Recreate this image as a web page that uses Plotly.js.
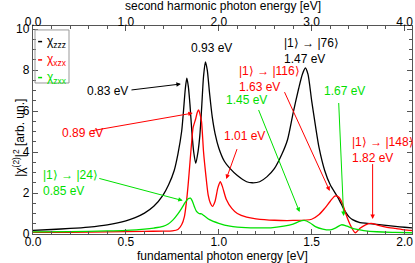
<!DOCTYPE html>
<html>
<head>
<meta charset="utf-8">
<script src="https://cdn.plot.ly/plotly-3.0.1.min.js"></script>
<style>html,body{margin:0;padding:0;background:#fff;}#chart{width:415px;height:263px;}</style>
</head>
<body>
<div id="chart"></div>
<script>
// fundamental photon energy [eV] and |chi(2)|^2 [arb. un.]
const zzzX = [0.00,0.10,0.20,0.30,0.40,0.50,0.55,0.60,0.65,0.70,0.73,0.76,0.78,0.80,0.81,0.82,0.828,0.836,0.845,0.855,0.865,0.876,0.888,0.898,0.908,0.918,0.928,0.938,0.95,0.965,0.98,1.00,1.03,1.06,1.10,1.15,1.18,1.22,1.26,1.30,1.34,1.37,1.40,1.43,1.45,1.466,1.48,1.50,1.52,1.54,1.57,1.60,1.64,1.66,1.68,1.70,1.72,1.76,1.80,1.85,1.90,1.95,2.00,2.04];
const zzzY = [0.18,0.22,0.27,0.34,0.45,0.64,0.80,1.02,1.35,1.90,2.40,3.10,3.90,5.00,6.00,7.10,7.60,7.20,6.30,5.00,4.00,3.45,4.00,4.80,6.20,7.70,8.40,8.00,6.90,5.70,4.90,4.20,3.55,3.20,2.85,2.55,2.50,2.55,2.80,3.20,3.90,4.60,5.90,7.10,7.80,8.10,7.80,6.50,5.30,4.20,3.10,2.40,1.80,1.45,1.10,0.85,0.70,0.56,0.52,0.47,0.42,0.37,0.33,0.30];

const xzxX = [0.00,0.20,0.40,0.60,0.70,0.75,0.78,0.80,0.815,0.825,0.835,0.845,0.855,0.862,0.875,0.885,0.892,0.900,0.907,0.918,0.930,0.943,0.955,0.966,0.980,0.995,1.008,1.02,1.04,1.07,1.10,1.15,1.20,1.30,1.40,1.50,1.54,1.57,1.60,1.625,1.645,1.665,1.685,1.71,1.735,1.76,1.79,1.82,1.86,1.90,1.95,2.00,2.04];
const xzxY = [0.08,0.08,0.10,0.13,0.14,0.15,0.22,0.45,0.85,1.50,2.40,3.50,4.60,5.20,5.60,5.95,6.05,5.80,5.50,4.00,2.90,1.90,1.50,1.35,1.60,2.25,2.55,2.30,1.70,1.25,1.00,0.82,0.74,0.67,0.66,0.72,0.95,1.25,1.60,1.85,1.80,1.50,0.95,0.40,0.06,0.28,0.45,0.52,0.42,0.34,0.27,0.20,0.17];

const zxxX = [0.00,0.20,0.40,0.50,0.60,0.65,0.70,0.73,0.755,0.78,0.80,0.82,0.835,0.848,0.858,0.870,0.880,0.893,0.907,0.92,0.95,1.00,1.06,1.10,1.20,1.28,1.35,1.40,1.43,1.46,1.49,1.52,1.56,1.60,1.63,1.66,1.69,1.72,1.78,1.85,1.95,2.04];
const zxxY = [0.10,0.12,0.15,0.18,0.24,0.29,0.37,0.50,0.70,0.98,1.25,1.55,1.72,1.75,1.60,1.30,1.10,1.00,0.98,0.90,0.70,0.52,0.38,0.34,0.30,0.30,0.38,0.48,0.60,0.66,0.55,0.36,0.24,0.20,0.30,0.45,0.38,0.27,0.17,0.11,0.08,0.06];

const seriesNames = ['χ<sub>zzz</sub>','χ<sub>xzx</sub>','χ<sub>zxx</sub>'];
const seriesColors = ['#000000','#ff0000','#00e000'];
const bottomTicks = [0,0.5,1.0,1.5,2.0];
const topTicks = [0,1,2,3,4];
const leftTicks = [0,2,4,6,8,10];

const FONT = 'Liberation Sans, Arial, Helvetica, sans-serif';
const AX = '#555555';

function line(x,y,i){
  return {x:x,y:y,type:'scatter',mode:'lines',name:seriesNames[i],
    line:{color:seriesColors[i],width:1.3,shape:'spline',smoothing:0.7},hoverinfo:'skip'};
}
const traces = [line(zzzX,zzzY,0), line(xzxX,xzxY,1), line(zxxX,zxxY,2),
  {x:zzzX.map(v=>2*v), y:zzzY, xaxis:'x2', type:'scatter', mode:'lines',
   line:{color:'rgba(0,0,0,0)',width:0}, hoverinfo:'skip', showlegend:false}];

const common = {ticks:'inside', ticklen:5, tickwidth:1, tickcolor:AX, showline:true, linecolor:AX, linewidth:1.2,
  showgrid:false, zeroline:false, automargin:false, tickfont:{family:FONT,size:12,color:'#000'}};

function ann(x,y,text,color,opts){
  return Object.assign({x:x,y:y,xref:'x',yref:'y',text:text,showarrow:false,
    font:{family:FONT,size:12,color:color}}, opts||{});
}
function arrow(tx,ty,hx,hy,color){
  return {x:hx,y:hy,ax:tx,ay:ty,xref:'x',yref:'y',axref:'x',ayref:'y',text:' ',showarrow:true,
    arrowhead:2,arrowsize:0.9,arrowwidth:1,arrowcolor:color,standoff:0,startstandoff:0,font:{size:1}};
}
const annotations = [
  ann(0.403,7.0,'0.83 eV','#000'),
  ann(0.962,9.07,'0.93 eV','#000'),
  ann(1.339,8.95,'|1⟩ → |76⟩<br>1.47 eV','#000',{xanchor:'left',align:'left'}),
  ann(0.269,4.93,'0.89 eV','#ff0000'),
  ann(1.14,4.78,'1.01 eV','#ff0000'),
  ann(1.097,7.56,'|1⟩ → |116⟩<br>1.63 eV','#ff0000',{xanchor:'left',align:'left'}),
  ann(1.704,4.12,'|1⟩ → |148⟩<br>1.82 eV','#ff0000',{xanchor:'left',align:'left'}),
  ann(0.043,2.51,'|1⟩ → |24⟩<br>0.85 eV','#00e000',{xanchor:'left',align:'left'}),
  ann(1.15,6.54,'1.45 eV','#00e000'),
  ann(1.677,6.98,'1.67 eV','#00e000'),
  arrow(0.522,7.02,0.796,7.32,'#000'),
  arrow(0.306,5.02,0.86,5.9,'#ff0000'),
  arrow(1.102,4.24,1.04,2.68,'#ff0000'),
  arrow(1.349,7.02,1.597,2.10,'#ff0000'),
  arrow(1.828,3.51,1.828,0.73,'#ff0000'),
  arrow(0.349,2.73,0.806,1.63,'#00e000'),
  arrow(1.21,6.15,1.435,1.07,'#00e000'),
  arrow(1.645,6.49,1.672,0.88,'#00e000'),
  // axis titles
  {x:-0.062,y:0.46,xref:'paper',yref:'paper',text:'|χ<sup>(2)</sup>|<sup>2</sup> [arb. un.]',textangle:-90,
   showarrow:false,font:{family:FONT,size:12,color:'#000'}},
  {x:0.5,y:-0.105,xref:'paper',yref:'paper',yanchor:'middle',text:'fundamental photon energy [eV]',
   showarrow:false,font:{family:FONT,size:12,color:'#000'}},
  {x:0.5,y:1.096,xref:'paper',yref:'paper',yanchor:'middle',text:'second harmonic photon energy [eV]',
   showarrow:false,font:{family:FONT,size:12,color:'#000'}}
];
// legend (manual, compact)
const legY = [0.925,0.837,0.752];
const shapes = [{type:'rect',xref:'paper',yref:'paper',x0:0.0053,x1:0.095,y0:0.726,y1:0.981,
  line:{color:'#999',width:1},fillcolor:'rgba(255,255,255,0)'}];
seriesNames.forEach((n,i)=>{
  shapes.push({type:'line',xref:'paper',yref:'paper',x0:0.0135,x1:0.024,y0:legY[i],y1:legY[i],
    line:{color:seriesColors[i],width:1.5}});
  annotations.push({x:0.031,y:legY[i],xref:'paper',yref:'paper',xanchor:'left',yanchor:'middle',text:n,
    showarrow:false,font:{family:FONT,size:12,color:seriesColors[i]}});
});

const layout = {
  width:415, height:263, margin:{l:33,r:3,t:26,b:29},
  paper_bgcolor:'#fff', plot_bgcolor:'#fff', showlegend:false,
  font:{family:FONT,size:12,color:'#000'},
  xaxis:Object.assign({}, common, {range:[0,2.04], tickvals:bottomTicks, tickformat:'.1f', ticklabelstandoff:-4,
    minor:{dtick:0.1, tick0:0, ticks:'inside', ticklen:3, tickcolor:AX}}),
  xaxis2:Object.assign({}, common, {overlaying:'x', side:'top', anchor:'y', range:[0,4.08], tickvals:topTicks, tickformat:'.1f', ticklabelstandoff:-6,
    minor:{dtick:0.2, tick0:0, ticks:'inside', ticklen:3, tickcolor:AX}}),
  yaxis:Object.assign({}, common, {range:[0,10.15], tickvals:leftTicks, mirror:'ticks',
    minor:{dtick:0.5, tick0:0, ticks:'inside', ticklen:3, tickcolor:AX}}),
  annotations:annotations, shapes:shapes
};
Plotly.newPlot('chart', traces, layout, {staticPlot:true, displayModeBar:false});
</script>
</body>
</html>
